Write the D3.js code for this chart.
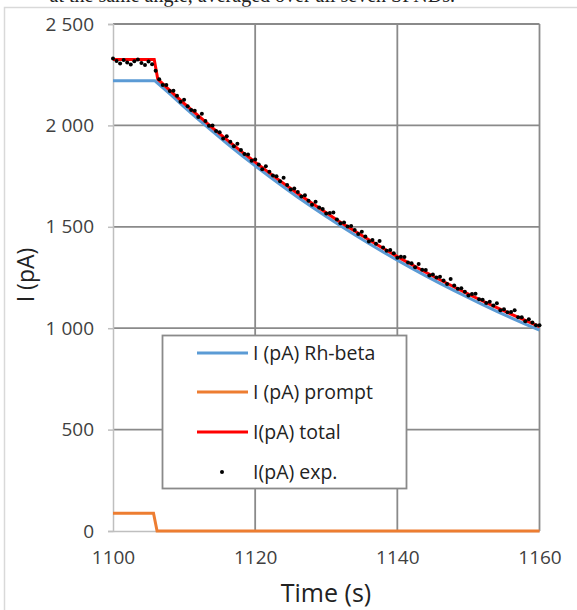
<!DOCTYPE html>
<html><head><meta charset="utf-8">
<script src="https://cdn.jsdelivr.net/npm/d3@7"></script>
<style>body{margin:0;background:#fff;}svg{display:block;}</style>
</head><body>
<svg id="c" width="577" height="610"></svg>
<script>
// ---- data ----
const xTicks = [1100, 1120, 1140, 1160];
const yTicks = [0, 500, 1000, 1500, 2000, 2500];

const betaT = [1100, 1105.9, 1108, 1110, 1112, 1114, 1116, 1118, 1120, 1122, 1124, 1126, 1128, 1130, 1132, 1134, 1136, 1138, 1140, 1142, 1144, 1146, 1148, 1150, 1152, 1154, 1156, 1158, 1160];
const betaV = [2220, 2220, 2155, 2091, 2030, 1970, 1912, 1855, 1801, 1748, 1696, 1646, 1598, 1551, 1505, 1461, 1418, 1376, 1335, 1296, 1258, 1221, 1185, 1150, 1116, 1083, 1051, 1020, 990];

const promptT = [1100, 1105.7, 1106.2, 1160];
const promptV = [88, 88, 0, 0];

const totalT = [1100, 1105.8, 1106.3, 1108, 1110, 1112, 1114, 1116, 1118, 1120, 1122, 1124, 1126, 1128, 1130, 1132, 1134, 1136, 1138, 1140, 1142, 1144, 1146, 1148, 1150, 1152, 1154, 1156, 1158, 1160];
const totalV = [2325, 2325, 2228, 2173, 2109, 2048, 1988, 1930, 1873, 1819, 1766, 1714, 1664, 1616, 1569, 1523, 1479, 1436, 1394, 1353, 1314, 1276, 1239, 1203, 1168, 1134, 1101, 1069, 1038, 1008];

const expT = [1100, 1100.5, 1101, 1101.5, 1102, 1102.5, 1103, 1103.5, 1104, 1104.5, 1105, 1105.5, 1106, 1106.5, 1107, 1107.5, 1108, 1108.5, 1109, 1109.5,
  1110, 1110.5, 1111, 1111.5, 1112, 1112.5, 1113, 1113.5, 1114, 1114.5, 1115, 1115.5, 1116, 1116.5, 1117, 1117.5, 1118, 1118.5, 1119, 1119.5,
  1120, 1120.5, 1121, 1121.5, 1122, 1122.5, 1123, 1123.5, 1124, 1124.5, 1125, 1125.5, 1126, 1126.5, 1127, 1127.5, 1128, 1128.5, 1129, 1129.5,
  1130, 1130.5, 1131, 1131.5, 1132, 1132.5, 1133, 1133.5, 1134, 1134.5, 1135, 1135.5, 1136, 1136.5, 1137, 1137.5, 1138, 1138.5, 1139, 1139.5,
  1140, 1140.5, 1141, 1141.5, 1142, 1142.5, 1143, 1143.5, 1144, 1144.5, 1145, 1145.5, 1146, 1146.5, 1147, 1147.5, 1148, 1148.5, 1149, 1149.5,
  1150, 1150.5, 1151, 1151.5, 1152, 1152.5, 1153, 1153.5, 1154, 1154.5, 1155, 1155.5, 1156, 1156.5, 1157, 1157.5, 1158, 1158.5, 1159, 1159.5, 1160];
const expV = [2330, 2318, 2305, 2322, 2310, 2300, 2316, 2325, 2308, 2298, 2315, 2302, 2270, 2227, 2199, 2199, 2170, 2171, 2146, 2117,
  2127, 2095, 2076, 2072, 2041, 2058, 2022, 1998, 1999, 1973, 1966, 1935, 1946, 1919, 1897, 1909, 1879, 1859, 1856, 1826,
  1832, 1807, 1784, 1798, 1771, 1753, 1749, 1724, 1742, 1706, 1684, 1689, 1671, 1650, 1655, 1629, 1609, 1624, 1595, 1588,
  1565, 1568, 1570, 1536, 1517, 1521, 1501, 1504, 1484, 1465, 1475, 1452, 1428, 1435, 1416, 1430, 1398, 1382, 1386, 1370,
  1348, 1352, 1351, 1324, 1320, 1300, 1316, 1288, 1287, 1260, 1265, 1250, 1254, 1235, 1218, 1242, 1210, 1194, 1197, 1180,
  1161, 1169, 1170, 1143, 1140, 1124, 1131, 1112, 1123, 1088, 1094, 1079, 1080, 1088, 1054, 1054, 1034, 1044, 1028, 1015, 1014];

const legendLabels = ["I (pA) Rh-beta", "I (pA) prompt", "I(pA) total", "I(pA) exp."];
const xTitle = "Time (s)";
const yTitle = "I (pA)";
const caption = "at the same angle, averaged over all seven SPNDs.";

// ---- drawing ----
const svg = d3.select("#c");
const FONT = "'Open Sans', 'Noto Sans', sans-serif";
const x = d3.scaleLinear().domain([1100, 1160]).range([113, 539.5]);
const y = d3.scaleLinear().domain([0, 2500]).range([531, 24]);
const loc = d3.formatLocale({decimal: ",", thousands: "\u00a0", grouping: [3], currency: ["", ""]});
const fmtY = loc.format(",d");

// caption cut off at top (as in the reference crop)
svg.append("text").attr("x", 455).attr("y", 2).attr("text-anchor", "end")
  .attr("font-family", "'Liberation Serif', serif").attr("font-size", 20).attr("fill", "#222").text(caption);

// outer chart frame
svg.append("rect").attr("x", 4.5).attr("y", 7.5).attr("width", 600).attr("height", 700)
  .attr("fill", "#fff").attr("stroke", "#d9d9d9").attr("stroke-width", 1.5);

// gridlines
const gridColor = "#8a8a8a";
svg.append("g").selectAll("line").data(yTicks.filter(d => d > 0)).join("line")
  .attr("x1", x(1100)).attr("x2", x(1160)).attr("y1", d => y(d)).attr("y2", d => y(d))
  .attr("stroke", gridColor).attr("stroke-width", 1.8);
svg.append("g").selectAll("line").data(xTicks.filter(d => d > 1100)).join("line")
  .attr("x1", d => x(d)).attr("x2", d => x(d)).attr("y1", y(0)).attr("y2", y(2500))
  .attr("stroke", gridColor).attr("stroke-width", 1.8);

// axes
const yAxis = d3.axisLeft(y).tickValues(yTicks).tickFormat(fmtY).tickSize(5).tickPadding(14);
const gy = svg.append("g").attr("transform", `translate(${x(1100)},0)`).call(yAxis);
gy.select(".domain").attr("stroke", "#bfbfbf").attr("stroke-width", 1.5);
gy.selectAll(".tick line").attr("stroke", "#bfbfbf").attr("stroke-width", 1.5);
gy.selectAll(".tick text").attr("font-family", FONT).attr("font-size", 19).attr("fill", "#404040");

const xAxis = d3.axisBottom(x).tickValues(xTicks).tickFormat(d3.format("d")).tickSize(0).tickPadding(20);
const gx = svg.append("g").attr("transform", `translate(0,${y(0)})`).call(xAxis);
gx.select(".domain").attr("stroke", "#bfbfbf").attr("stroke-width", 1.5);
gx.selectAll(".tick text").attr("font-family", FONT).attr("font-size", 19).attr("fill", "#404040");

// titles
svg.append("text").attr("x", 326).attr("y", 602).attr("text-anchor", "middle")
  .attr("font-family", FONT).attr("font-size", 25).attr("fill", "#222").text(xTitle);
svg.append("text").attr("transform", "translate(34,275) rotate(-90)").attr("text-anchor", "middle")
  .attr("font-family", FONT).attr("font-size", 23).attr("fill", "#222").text(yTitle);

// series
const line = d3.line().x(d => x(d[0])).y(d => y(d[1]));
const zip = (a, b) => a.map((v, i) => [v, b[i]]);
const colors = ["#5b9bd5", "#ed7d31", "#ff0000"];
svg.append("path").datum(zip(betaT, betaV)).attr("d", line).attr("fill", "none")
  .attr("stroke", colors[0]).attr("stroke-width", 3);
svg.append("path").datum(zip(promptT, promptV)).attr("d", line).attr("fill", "none")
  .attr("stroke", colors[1]).attr("stroke-width", 3);
svg.append("path").datum(zip(totalT, totalV)).attr("d", line).attr("fill", "none")
  .attr("stroke", colors[2]).attr("stroke-width", 3);
svg.append("g").selectAll("circle").data(zip(expT, expV)).join("circle")
  .attr("cx", d => x(d[0])).attr("cy", d => y(d[1])).attr("r", 2).attr("fill", "#000");

// legend
const lg = svg.append("g");
lg.append("rect").attr("x", 162.5).attr("y", 335.5).attr("width", 244).attr("height", 153)
  .attr("fill", "#fff").attr("stroke", "#8a8a8a").attr("stroke-width", 1.8);
const rowY = [353, 392, 432, 472];
legendLabels.forEach((lab, i) => {
  if (i < 3) {
    lg.append("line").attr("x1", 197).attr("x2", 248).attr("y1", rowY[i]).attr("y2", rowY[i])
      .attr("stroke", colors[i]).attr("stroke-width", 3);
  } else {
    lg.append("circle").attr("cx", 222).attr("cy", rowY[i]).attr("r", 2).attr("fill", "#000");
  }
  lg.append("text").attr("x", 253).attr("y", rowY[i]).attr("dy", "0.35em")
    .attr("font-family", FONT).attr("font-size", 19.5).attr("fill", "#222").text(lab);
});
</script>
</body></html>
